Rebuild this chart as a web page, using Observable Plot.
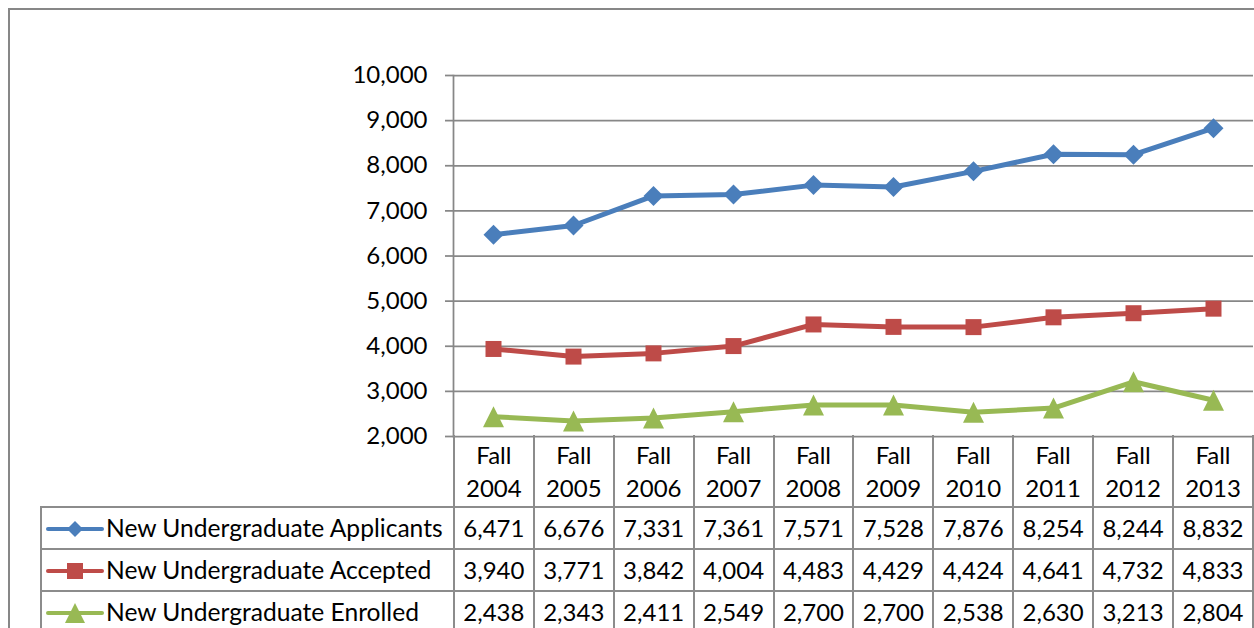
<!DOCTYPE html>
<html>
<head>
<meta charset="utf-8">
<script src="https://cdn.jsdelivr.net/npm/d3@7"></script>
<script src="https://cdn.jsdelivr.net/npm/@observablehq/plot@0.6"></script>
<style>
  html, body { margin: 0; padding: 0; background: #fff; }
  body { width: 1254px; height: 628px; overflow: hidden; position: relative; font-family: Lato, "Open Sans", sans-serif; color: #000; }
  #frame { position: absolute; left: 8px; top: 8px; width: 1400px; height: 800px; border: 2px solid #878787; box-sizing: border-box; }
  #chart { position: absolute; left: 0; top: 0; }
  #tbl { position: absolute; left: 40px; top: 435px; border-collapse: collapse; table-layout: fixed; font-size: 24px; }
  #tbl td { border: 2px solid #8c8c8c; padding: 0; text-align: center; white-space: nowrap; }
  #tbl tr.head td { height: 71px; line-height: 33px; border-top: none; }
  #tbl tr.head td.blank { border: none; border-right: 2px solid #8c8c8c; }
  #tbl tr.row td { height: 40px; line-height: 40px; }
  #tbl td.name { text-align: left; font-size: 24.6px; }
  #tbl td.name svg { vertical-align: middle; margin-left: 4px; margin-right: 2px; position: relative; top: -2px; }
</style>
</head>
<body>
<div id="frame"></div>
<div id="chart"></div>
<table id="tbl"></table>
<script>
// ---- data ----
const terms = ["Fall 2004", "Fall 2005", "Fall 2006", "Fall 2007", "Fall 2008", "Fall 2009", "Fall 2010", "Fall 2011", "Fall 2012", "Fall 2013"];
const seriesNames = ["New Undergraduate Applicants", "New Undergraduate Accepted", "New Undergraduate Enrolled"];
const applicants = [6471, 6676, 7331, 7361, 7571, 7528, 7876, 8254, 8244, 8832];
const accepted   = [3940, 3771, 3842, 4004, 4483, 4429, 4424, 4641, 4732, 4833];
const enrolled   = [2438, 2343, 2411, 2549, 2700, 2700, 2538, 2630, 3213, 2804];
const seriesColors = ["#4A7EBB", "#BE4B48", "#98B954"];
const yTicks = [2000, 3000, 4000, 5000, 6000, 7000, 8000, 9000, 10000];

const seriesValues = [applicants, accepted, enrolled];
const data = seriesNames.flatMap((s, j) => terms.map((t, i) => ({ term: t, series: s, value: seriesValues[j][i] })));

// custom symbols (half extent h = sqrt(size)/2)
const diamondSym = { draw(ctx, size) { const h = Math.sqrt(size) / 2; ctx.moveTo(0, -h); ctx.lineTo(h, 0); ctx.lineTo(0, h); ctx.lineTo(-h, 0); ctx.closePath(); } };
const squareSym = { draw(ctx, size) { const h = Math.sqrt(size) / 2; ctx.rect(-h, -h, 2 * h, 2 * h); } };
const triangleSym = { draw(ctx, size) { const h = Math.sqrt(size) / 2; ctx.moveTo(0, -h); ctx.lineTo(h, h); ctx.lineTo(-h, h); ctx.closePath(); } };
const symbols = [diamondSym, squareSym, triangleSym];
const rFor = (h) => 2 * h / Math.sqrt(Math.PI);
const halfSizes = [10, 8, 10.5];

const chart = Plot.plot({
  width: 1254,
  height: 440,
  marginTop: 75,
  marginBottom: 4,
  marginLeft: 453,
  marginRight: 1,
  style: { fontFamily: "Lato, 'Open Sans', sans-serif", fontSize: "24px", color: "#000", background: "transparent", overflow: "visible" },
  x: { type: "point", domain: terms, padding: 0.5, axis: null },
  y: { domain: [2000, 10000], label: null },
  color: { domain: seriesNames, range: seriesColors },
  marks: [
    Plot.gridY(yTicks, { stroke: "#878787", strokeOpacity: 1, strokeWidth: 1.75 }),
    Plot.frame({ anchor: "left", stroke: "#878787", strokeWidth: 1.75 }),
    Plot.axisY(yTicks, { label: null, tickFormat: d3.format(","), tickSize: 8, tickPadding: 18, stroke: "#878787", strokeWidth: 1.75, fill: "#000" }),
    Plot.lineY(data, { x: "term", y: "value", z: "series", stroke: "series", strokeWidth: 5 }),
    ...seriesNames.map((s, j) => Plot.dot(data.filter(d => d.series === s), {
      x: "term", y: "value", fill: seriesColors[j], stroke: "none", symbol: symbols[j], r: rFor(halfSizes[j])
    }))
  ]
});
document.getElementById("chart").appendChild(chart);

// ---- data table under the chart ----
const tbl = d3.select("#tbl");
const cg = tbl.append("colgroup");
cg.append("col").style("width", "413px");
terms.forEach(() => cg.append("col").style("width", "80px"));

const head = tbl.append("tr").attr("class", "head");
head.append("td").attr("class", "blank");
terms.forEach(t => {
  const [a, b] = t.split(" ");
  head.append("td").html(a + "<br>" + b);
});

const legendHalf = [8, 8, 10];
seriesNames.forEach((s, j) => {
  const tr = tbl.append("tr").attr("class", "row");
  const td = tr.append("td").attr("class", "name");
  const svg = td.append("svg").attr("width", 58).attr("height", 24);
  svg.append("line").attr("x1", 2).attr("x2", 56).attr("y1", 12).attr("y2", 12)
    .attr("stroke", seriesColors[j]).attr("stroke-width", 4).attr("stroke-linecap", "round");
  const h = legendHalf[j];
  svg.append("path").attr("transform", "translate(29,12)").attr("fill", seriesColors[j])
    .attr("d", d3.symbol(symbols[j], (2 * h) * (2 * h))());
  td.append("span").text(s);
  seriesValues[j].forEach(v => tr.append("td").text(d3.format(",")(v)));
});
</script>
</body>
</html>
